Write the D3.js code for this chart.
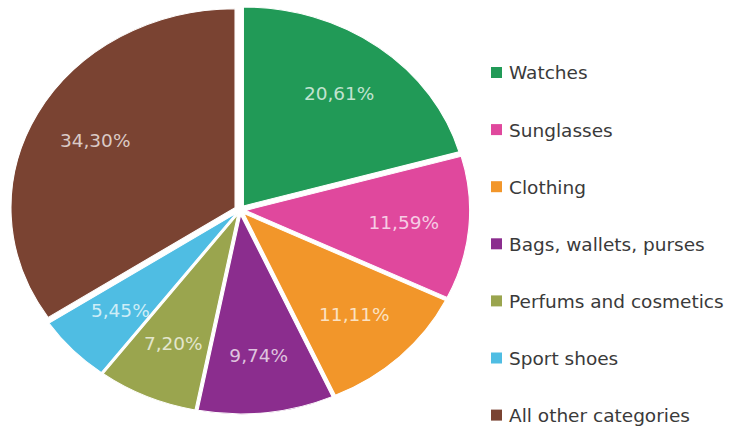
<!DOCTYPE html>
<html>
<head>
<meta charset="utf-8">
<script src="https://cdn.jsdelivr.net/npm/d3@7"></script>
<style>
  html, body { margin: 0; padding: 0; background: #fff; }
  svg { display: block; }
</style>
</head>
<body>
<svg id="pie" width="731" height="429"></svg>
<script>
// data
var categories = ["Watches", "Sunglasses", "Clothing", "Bags, wallets, purses",
                  "Perfums and cosmetics", "Sport shoes", "All other categories"];
var shares = [20.61, 11.59, 11.11, 9.74, 7.20, 5.45, 34.30];
var labels = ["20,61%", "11,59%", "11,11%", "9,74%", "7,20%", "5,45%", "34,30%"];
var colors = ["#219a57", "#e0489d", "#f2962a", "#8b2d8e", "#9aa54e", "#4fbde3", "#7a4332"];

var svg = d3.select("#pie"),
    cx = 240, cy = 210,
    radius = 199,
    stretch = 1.126,   // the original pie is a bit wider than tall
    explode = 5,
    labelR = 146;

var rows = categories.map(function(c, i) {
  return {name: c, value: shares[i], label: labels[i], color: colors[i]};
});

var pie = d3.pie().sort(null).value(function(d) { return d.value; });
var arc = d3.arc().innerRadius(0).outerRadius(radius);
var labelArc = d3.arc().innerRadius(labelR).outerRadius(labelR);

var arcs = pie(rows);

// slices, each pushed out a little along its middle angle
var g = svg.append("g")
    .attr("transform", "translate(" + cx + "," + cy + ") scale(" + stretch + ",1)");

g.selectAll("path")
  .data(arcs)
  .enter().append("path")
    .attr("d", arc)
    .attr("fill", function(d) { return d.data.color; })
    .attr("stroke", "#fff")
    .attr("stroke-width", 1)
    .attr("transform", function(d) {
      var a = (d.startAngle + d.endAngle) / 2;
      return "translate(" + (Math.sin(a) * explode) + "," + (-Math.cos(a) * explode) + ")";
    });

// percentage labels in a light tint of the slice colour
svg.append("g")
    .attr("font-family", "DejaVu Sans, sans-serif")
    .attr("font-size", 18.5)
    .attr("text-anchor", "middle")
  .selectAll("text")
  .data(arcs)
  .enter().append("text")
    .attr("x", function(d) { return cx + labelArc.centroid(d)[0] * stretch; })
    .attr("y", function(d) { return cy + labelArc.centroid(d)[1]; })
    .attr("dy", "0.35em")
    .attr("fill", function(d) { return d3.interpolateRgb(d.data.color, "#fff")(0.72); })
    .text(function(d) { return d.data.label; });

// legend
var legend = svg.append("g")
    .attr("font-family", "DejaVu Sans, sans-serif")
    .attr("font-size", 18.5)
  .selectAll("g")
  .data(rows)
  .enter().append("g")
    .attr("transform", function(d, i) { return "translate(491," + (73 + i * 57.1) + ")"; });

legend.append("rect")
    .attr("x", 0)
    .attr("y", -6)
    .attr("width", 11)
    .attr("height", 11)
    .attr("fill", function(d) { return d.color; });

legend.append("text")
    .attr("x", 18)
    .attr("y", 0)
    .attr("dy", "0.35em")
    .attr("fill", "#3a3a3a")
    .text(function(d) { return d.name; });
</script>
</body>
</html>
